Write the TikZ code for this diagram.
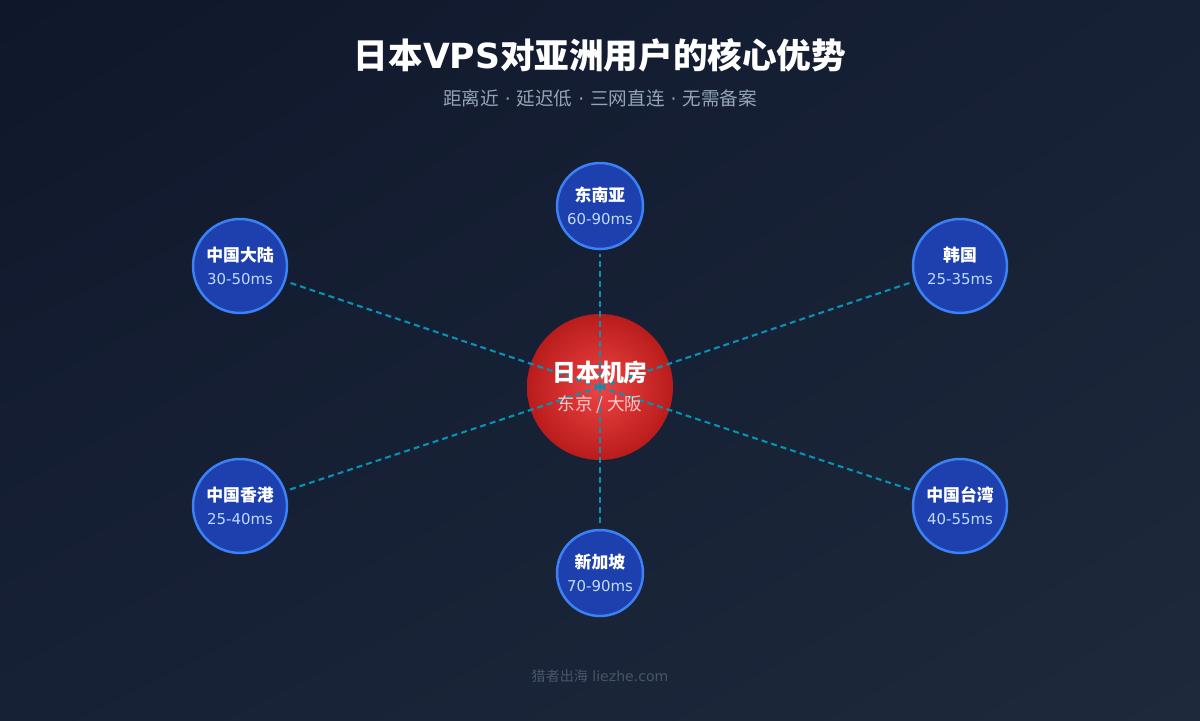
\documentclass[tikz,border=0pt]{standalone}
\usepackage{fontspec}
\usetikzlibrary{shadings}
\setmainfont{DejaVu Sans}
\newfontfamily\cjk{Noto Sans CJK SC}
\definecolor{bgtop}{HTML}{0F172A}
\definecolor{bgbot}{HTML}{1E293B}
\definecolor{bgmid}{HTML}{172136}
\definecolor{regfill}{HTML}{1E40AF}
\definecolor{regline}{HTML}{3B82F6}
\definecolor{hubin}{HTML}{EF4444}
\definecolor{hubout}{HTML}{B91C1C}
\definecolor{link}{HTML}{0891B2}
\definecolor{subgray}{HTML}{94A3B8}
\definecolor{latblue}{HTML}{BFDBFE}
\definecolor{hubsub}{HTML}{FECACA}
\definecolor{foot}{HTML}{475569}

\tikzset{
  region/.style={circle, draw=regline, line width=1.4pt, fill=regfill,
    minimum size=1.88cm, inner sep=0pt, align=center, text=white},
  smallregion/.style={region, minimum size=1.72cm},
  hub/.style={circle, minimum size=2.92cm, inner sep=0pt,
    inner color=hubin, outer color=hubout},
  latency/.style={dashed, link, line width=1.2pt, dash pattern=on 3.4pt off 2.3pt}
}
\newcommand{\regname}[2]{{\cjk\bfseries\fontsize{9.6}{11}\selectfont #1}\\[1pt]{\fontsize{8.5}{10}\selectfont\color{latblue}#2}}

\begin{document}
\begin{tikzpicture}[x=0.02cm, y=-0.02cm]
        % background
        \shade[upper left=bgtop, upper right=bgmid, lower left=bgmid, lower right=bgbot]
          (0,0) rectangle (1200,720);
        \useasboundingbox (0,0) rectangle (1200,720);

        % heading
        \node[text=white, font=\bfseries\fontsize{19.7}{22}\selectfont] (title) at (600,55)
          {{\cjk 日本}VPS{\cjk 对亚洲用户的核心优势}};
        \node[text=subgray, font=\fontsize{10.6}{12}\selectfont] (subtitle) at (600,98)
          {{\cjk 距离近} · {\cjk 延迟低} · {\cjk 三网直连} · {\cjk 无需备案}};

        % hub
        \node[hub] (japan) at (600,387) {};

        % regions
        \node[smallregion] (sea) at (600,206) {\regname{东南亚}{60-90ms}};
        \node[region] (cn) at (240,266) {\regname{中国大陆}{30-50ms}};
        \node[region] (kr) at (960,266) {\regname{韩国}{25-35ms}};
        \node[region] (hk) at (240,506) {\regname{中国香港}{25-40ms}};
        \node[region] (tw) at (960,506) {\regname{中国台湾}{40-55ms}};
        \node[smallregion] (sg) at (600,573) {\regname{新加坡}{70-90ms}};

        % links
        \foreach \r in {sea,cn,kr,hk,tw,sg}
          \draw[latency, shorten >=2pt] (japan.center) -- (\r);

        \node[align=center, text=white] (japanlabel) at (japan)
          {{\cjk\bfseries\fontsize{13.6}{16}\selectfont 日本机房}\\[4.5pt]
           {\cjk\fontsize{10}{11}\selectfont\color{hubsub}东京 / 大阪}};

        % footer
        \node[text=foot, font=\fontsize{8}{10}\selectfont] (credit) at (600,676)
          {{\cjk 猎者出海} liezhe.com};
      \end{tikzpicture}
\end{document}
